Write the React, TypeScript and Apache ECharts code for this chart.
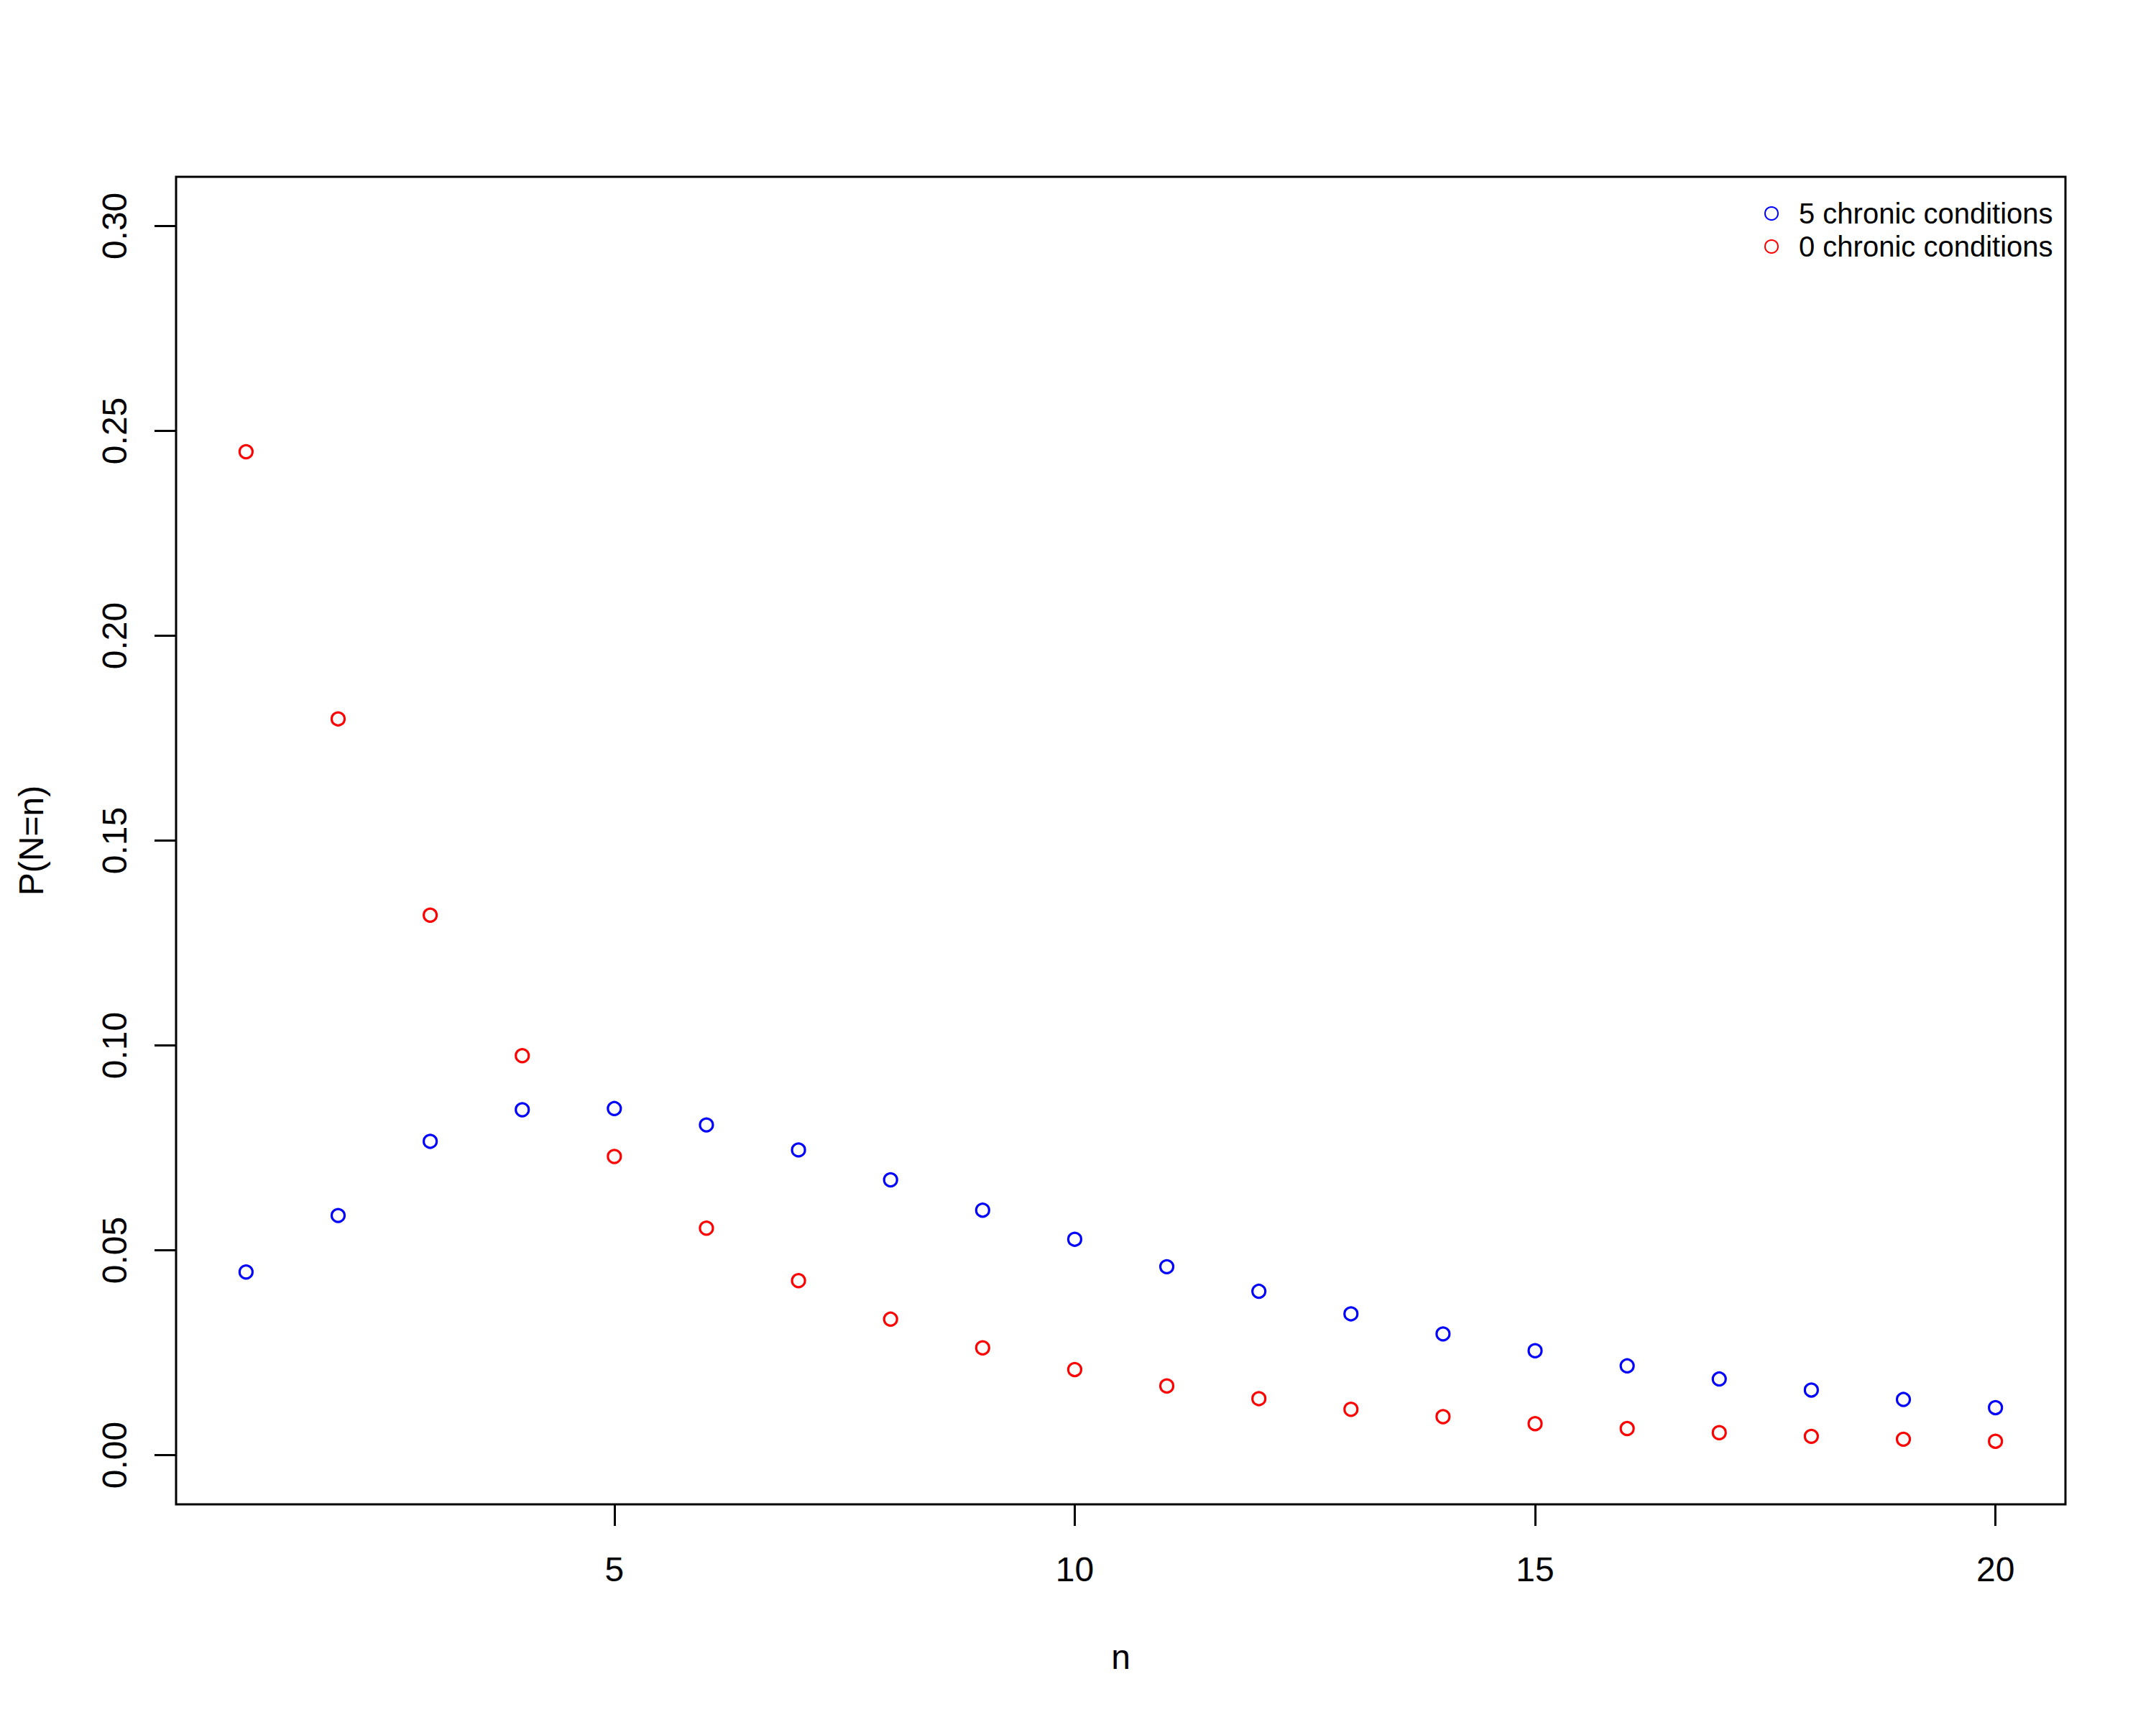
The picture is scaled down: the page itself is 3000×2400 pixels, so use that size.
import React, { useEffect, useRef } from "react";
import * as echarts from "echarts";

const nValues = [1, 2, 3, 4, 5, 6, 7, 8, 9, 10, 11, 12, 13, 14, 15, 16, 17, 18, 19, 20];
const chronic5 = [
  0.0447, 0.0585, 0.0766, 0.0843, 0.0846, 0.0806, 0.0745, 0.0672, 0.0598, 0.0527,
  0.0460, 0.0400, 0.0345, 0.0296, 0.0255, 0.0218, 0.0186, 0.0159, 0.0136, 0.0116,
];
const chronic0 = [
  0.2449, 0.1797, 0.1318, 0.0975, 0.0729, 0.0554, 0.0426, 0.0332, 0.0262, 0.0209,
  0.0169, 0.0138, 0.0112, 0.0094, 0.0077, 0.0065, 0.0055, 0.0046, 0.0039, 0.0034,
];
const xTicks = [5, 10, 15, 20];
const yTicks = [0, 0.05, 0.1, 0.15, 0.2, 0.25, 0.3];
const seriesNames = ["5 chronic conditions", "0 chronic conditions"];
const seriesColors = ["#0000ff", "#ff0000"];
const FONT = "Liberation Sans, Arial, Helvetica, sans-serif";

export default function App() {
  const ref = useRef<HTMLDivElement>(null);
  useEffect(() => {
    if (!ref.current) return;
    const chart = echarts.init(ref.current, undefined, { renderer: "svg" });
    chart.setOption({
      animation: false,
      backgroundColor: "#ffffff",
      textStyle: { fontFamily: FONT },
      grid: {
        left: 245,
        top: 246,
        width: 2629,
        height: 1847,
        show: true,
        borderColor: "#000",
        borderWidth: 3,
        backgroundColor: "transparent",
        containLabel: false,
      },
      legend: {
        orient: "vertical",
        left: 2455,
        top: 277,
        padding: 0,
        itemWidth: 18,
        itemHeight: 18,
        itemGap: 6,
        icon: "circle",
        data: seriesNames,
        textStyle: {
          fontSize: 40,
          lineHeight: 40,
          color: "#000",
          fontFamily: FONT,
          padding: [0, 0, 0, 24],
        },
      },
      xAxis: {
        type: "value",
        min: 0.24,
        max: 20.76,
        name: "n",
        nameLocation: "middle",
        nameGap: 188,
        nameTextStyle: { fontSize: 48, color: "#000", fontFamily: FONT },
        axisLine: { show: false, onZero: false },
        splitLine: { show: false },
        axisTick: {
          show: true,
          length: 30,
          customValues: xTicks,
          lineStyle: { color: "#000", width: 3 },
        },
        axisLabel: {
          customValues: xTicks,
          fontSize: 48,
          color: "#000",
          fontFamily: FONT,
          margin: 66,
          formatter: (v: number) => String(v),
        },
      },
      yAxis: {
        type: "value",
        min: -0.012,
        max: 0.312,
        name: "P(N=n)",
        nameLocation: "middle",
        nameGap: 178,
        nameTextStyle: { fontSize: 48, color: "#000", fontFamily: FONT },
        axisLine: { show: false, onZero: false },
        splitLine: { show: false },
        axisTick: {
          show: true,
          length: 30,
          customValues: yTicks,
          lineStyle: { color: "#000", width: 3 },
        },
        axisLabel: {
          customValues: yTicks,
          rotate: 90,
          fontSize: 48,
          color: "#000",
          fontFamily: FONT,
          margin: 62,
          formatter: (v: number) => v.toFixed(2),
        },
      },
      series: [0, 1].map((k) => ({
        name: seriesNames[k],
        type: "scatter",
        symbol: "circle",
        symbolSize: 18,
        itemStyle: {
          color: "rgba(255,255,255,0)",
          borderColor: seriesColors[k],
          borderWidth: 3.2,
          opacity: 1,
        },
        data: nValues.map((n, i) => [n, k === 0 ? chronic5[i] : chronic0[i]]),
      })),
    });
    return () => chart.dispose();
  }, []);
  return (
    <div
      ref={ref}
      style={{ position: "absolute", left: 0, top: 0, width: 3000, height: 2400, background: "#fff" }}
    />
  );
}
